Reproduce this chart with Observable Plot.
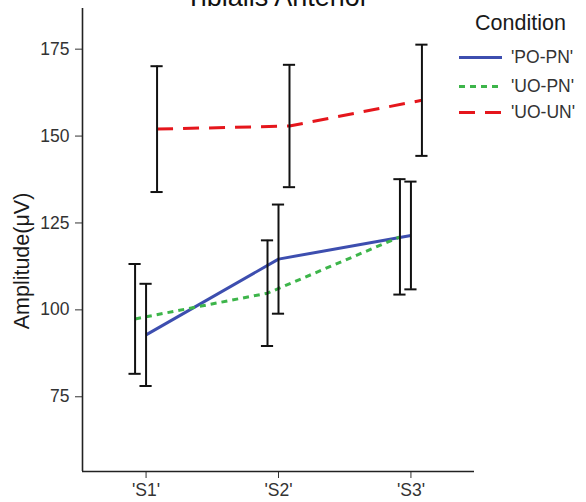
<!DOCTYPE html>
<html>
<head>
<meta charset="utf-8">
<script src="https://cdn.jsdelivr.net/npm/d3@7"></script>
<script src="https://cdn.jsdelivr.net/npm/@observablehq/plot@0.6"></script>
<style>
  html, body { margin: 0; padding: 0; background: white; }
  #wrap { position: relative; width: 586px; height: 502px; overflow: hidden; font-family: 'Liberation Sans', Arial, sans-serif; }
  #title { position: absolute; left: 277px; top: -16px; transform: translateX(-50%); font-size: 27px; line-height: 27px; color: #111; white-space: nowrap; }
  #ylab { position: absolute; left: 22px; top: 261px; transform: translate(-50%, -50%) rotate(-90deg); font-size: 21.5px; color: #1a1a1a; white-space: nowrap; }
  #legend { position: absolute; left: 459px; top: 0; }
  #legend .lt { position: absolute; left: 16px; top: 10px; font-size: 21.5px; line-height: 26px; color: #1a1a1a; white-space: nowrap; }
  #legend .item { position: absolute; left: 0; height: 20px; white-space: nowrap; }
  #legend .item svg { position: absolute; left: 0; top: 0; }
  #legend .item span { position: absolute; left: 52px; top: 0; font-size: 17.5px; line-height: 20px; color: #333; }
</style>
</head>
<body>
<div id="wrap">
  <div id="chart"></div>
  <div id="title">Tibialis Anterior</div>
  <div id="ylab">Amplitude(μV)</div>
  <div id="legend"></div>
</div>
<script>
// ---- data ----
const sessions = ["'S1'", "'S2'", "'S3'"];
const conditions = ["'PO-PN'", "'UO-PN'", "'UO-UN'"];
const meanPOPN = [92.8, 114.6, 121.4];
const errPOPN  = [14.7, 15.7, 15.5];
const meanUOPN = [97.4, 104.8, 121.0];
const errUOPN  = [15.8, 15.2, 16.6];
const meanUOUN = [152.0, 152.9, 160.3];
const errUOUN  = [18.1, 17.6, 16.0];
const yTicks = [75, 100, 125, 150, 175];

// ---- styling / layout ----
const colors = ["#3D4EAF", "#3DB54A", "#E5161C"];
const dashes = [null, "6,5", "16,10"];
const dodgeIndex = {"'PO-PN'": 0, "'UO-PN'": -1, "'UO-UN'": 1};
const dodge = 0.083;
const capHalf = 0.046;
const xDomain = [0.52, 3.48];
const yDomain = [53.5, 186.7];

const means = [meanPOPN, meanUOPN, meanUOUN];
const errs = [errPOPN, errUOPN, errUOUN];
const rows = conditions.flatMap((c, k) => sessions.map((s, i) => ({
  condition: c, session: s,
  x: i + 1 + dodgeIndex[c] * dodge,
  mean: means[k][i], lo: means[k][i] - errs[k][i], hi: means[k][i] + errs[k][i]
})));

const lineMarks = conditions.map((c, k) => Plot.line(rows.filter(r => r.condition === c), {
  x: "x", y: "mean", stroke: "condition", strokeWidth: 3,
  strokeDasharray: dashes[k] || undefined, strokeLinecap: "butt"
}));

const chart = Plot.plot({
  width: 586, height: 502,
  marginLeft: 82, marginRight: 112, marginTop: 8, marginBottom: 31,
  style: { fontSize: "17.5px", fontFamily: "'Liberation Sans', Arial, sans-serif", color: "#333", background: "white" },
  x: { type: "linear", domain: xDomain, ticks: [1, 2, 3], tickFormat: d => sessions[d - 1], tickSize: 7, tickPadding: 5, label: null },
  y: { domain: yDomain, ticks: yTicks, tickSize: 7, tickPadding: 6, label: null },
  color: { domain: conditions, range: colors },
  marks: [
    ...lineMarks,
    Plot.ruleX(rows, { x: "x", y1: "lo", y2: "hi", stroke: "#111", strokeWidth: 2 }),
    Plot.ruleY(rows, { y: "hi", x1: d => d.x - capHalf, x2: d => d.x + capHalf, stroke: "#111", strokeWidth: 2 }),
    Plot.ruleY(rows, { y: "lo", x1: d => d.x - capHalf, x2: d => d.x + capHalf, stroke: "#111", strokeWidth: 2 }),
    Plot.ruleX([xDomain[0]], { stroke: "#222", strokeWidth: 1.6 }),
    Plot.ruleY([yDomain[0]], { stroke: "#222", strokeWidth: 1.6 })
  ]
});
document.getElementById("chart").appendChild(chart);

// ---- legend ----
const legend = document.getElementById("legend");
const lt = document.createElement("div");
lt.className = "lt"; lt.textContent = "Condition";
legend.appendChild(lt);
const itemTops = [47, 75.5, 102];
conditions.forEach((c, k) => {
  const item = document.createElement("div");
  item.className = "item";
  item.style.top = itemTops[k] + "px";
  item.innerHTML = `<svg width="44" height="20"><line x1="0" x2="43" y1="10.5" y2="10.5" stroke="${colors[k]}" stroke-width="3" ${dashes[k] ? `stroke-dasharray="${dashes[k]}"` : ""}/></svg><span>${c}</span>`;
  legend.appendChild(item);
});
</script>
</body>
</html>
